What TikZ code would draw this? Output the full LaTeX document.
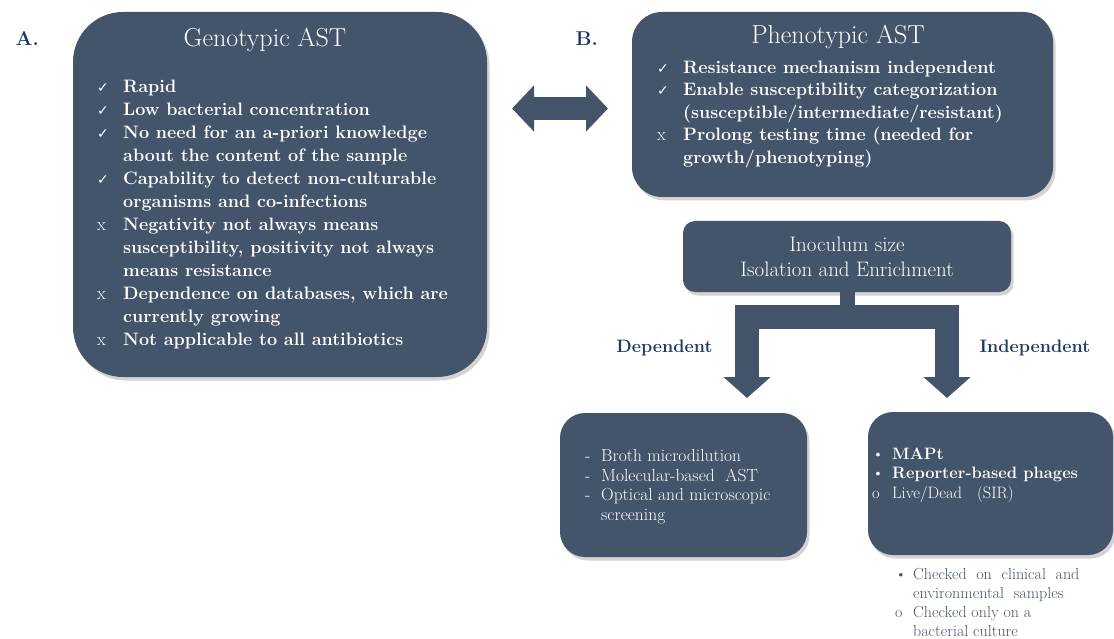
\documentclass[tikz,border=0pt]{standalone}
\usepackage{fontspec}
\newfontfamily\ckfont{DejaVu Sans}
\usepackage{tikz}
\usetikzlibrary{arrows.meta,positioning,shadows,calc}
\definecolor{slate}{HTML}{44546A}
\definecolor{navy}{HTML}{1F3864}
\newcommand{\chk}{{\ckfont\mdseries\fontsize{14}{14}\selectfont ✓}}
\newcommand{\crs}{{\mdseries x}}
\newcommand{\itm}[2]{\makebox[26pt][l]{#1}#2}
\newcommand{\cnt}[1]{\hspace*{26pt}#1}
\newcommand{\sitm}[2]{\makebox[16pt][l]{#1}#2}
\newcommand{\scnt}[1]{\hspace*{16pt}#1}

\begin{document}
\begin{tikzpicture}[x=1pt,y=-1pt,
  panel/.style={rectangle, fill=slate, draw=none, inner sep=0pt,
    drop shadow={shadow xshift=2.5pt, shadow yshift=-3.5pt, opacity=0.35}},
  ttl/.style={anchor=base, text=white, font=\fontsize{26}{26}\selectfont},
  lst/.style={anchor=north west, align=left, inner sep=0pt, text=white, font=\fontsize{18}{23}\selectfont\bfseries},
  slst/.style={anchor=north west, align=left, inner sep=0pt, text=white, font=\fontsize{17.5}{19.7}\selectfont},
  note/.style={anchor=north west, align=left, inner sep=0pt, text=slate, font=\fontsize{16}{19}\selectfont},
  tag/.style={anchor=base west, text=navy, font=\fontsize{20}{20}\selectfont\bfseries},
  branch/.style={text=navy, font=\fontsize{18}{18}\selectfont\bfseries},
  swaparr/.style={{Triangle[length=22pt,width=45pt]}-{Triangle[length=22pt,width=45pt]}, line width=23pt, draw=slate},
  stem/.style={line width=15pt, draw=slate},
  fork/.style={{Triangle[length=21pt,width=46pt]}-{Triangle[length=21pt,width=46pt]}, line width=24pt, draw=slate, line join=miter},
]
\useasboundingbox (0,0) rectangle (1114,639);

% --- panel A: genotypic testing ---
\node[panel, minimum width=414pt, minimum height=365pt, rounded corners=50pt] (geno) at (280,194.5) {};
\node[tag] (tagA) at (12,46) {A.};
\node[ttl] (genoTtl) at (265,47) {Genotypic AST};
\node[lst] (genoLst) at (97,79.5) {%
  \itm{\chk}{Rapid}\\
  \itm{\chk}{Low bacterial concentration}\\
  \itm{\chk}{No need for an a-priori knowledge}\\
  \cnt{about the content of the sample}\\
  \itm{\chk}{Capability to detect non-culturable}\\
  \cnt{organisms and co-infections}\\
  \itm{\crs}{Negativity not always means}\\
  \cnt{susceptibility, positivity not always}\\
  \cnt{means resistance}\\
  \itm{\crs}{Dependence on databases, which are}\\
  \cnt{currently growing}\\
  \itm{\crs}{Not applicable to all antibiotics}};

% --- panel B: phenotypic testing ---
\node[panel, minimum width=421pt, minimum height=185pt, rounded corners=30pt] (pheno) at (842.5,104.5) {};
\node[tag] (tagB) at (572,46) {B.};
\node[ttl] (phenoTtl) at (838,44) {Phenotypic AST};
\node[lst, font=\fontsize{18}{22.5}\selectfont\bfseries] (phenoLst) at (657,60.5) {%
  \itm{\chk}{Resistance mechanism independent}\\
  \itm{\chk}{Enable susceptibility categorization}\\
  \cnt{(susceptible/intermediate/resistant)}\\
  \itm{\crs}{Prolong testing time (needed for}\\
  \cnt{growth/phenotyping)}};

% --- double arrow between the two panels ---
\coordinate (swapL) at (512,108.5);
\coordinate (swapR) at (608,108.5);
\draw[swaparr] (swapL) -- (swapR);

% --- inoculum step and its split ---
\node[panel, minimum width=328pt, minimum height=71pt, rounded corners=12pt,
  align=center, text=white, font=\fontsize{21}{25}\selectfont] (inoc) at (847,256.5)
  {Inoculum size\\Isolation and Enrichment};

\coordinate (split) at (847.5,317);
\coordinate (depTip) at (747,398);
\coordinate (indTip) at (947,398);
\draw[stem] (inoc.south -| split) -- ([yshift=-2pt]split);
\draw[fork] (depTip) -- (depTip |- split) -- (indTip |- split) -- (indTip);

\node[branch, anchor=base east] (depLbl) at (716,352) {Dependent};
\node[branch, anchor=base west] (indLbl) at (976,352) {Independent};

% --- growth-dependent methods ---
\node[panel, minimum width=247pt, minimum height=144pt, rounded corners=25pt] (dep) at (683.5,485) {};
\node[slst] (depLst) at (585,449) {%
  \sitm{-}{Broth microdilution}\\
  \sitm{-}{Molecular-based\ \ AST}\\
  \sitm{-}{Optical and microscopic}\\
  \scnt{screening}};

% --- growth-independent methods ---
\node[panel, minimum width=245pt, minimum height=143pt, rounded corners=25pt] (ind) at (990.5,483.5) {};
\node[slst, font=\fontsize{16.5}{19.7}\selectfont] (indLst) at (872,447.5) {%
  \makebox[20pt][l]{\textbullet}\textbf{MAPt}\\
  \makebox[20pt][l]{\textbullet}\textbf{Reporter-based phages}\\
  \makebox[20pt][l]{o}Live/Dead\ \ \ (SIR)};

\node[note] (key) at (895,568) {%
  \makebox[18pt][l]{\textbullet}Checked\ \ on\ \ clinical\ \ and\\
  \hspace*{18pt}environmental\ \ samples\\
  \makebox[18pt][l]{o}Checked\ only\ on\ a\\
  \hspace*{18pt}bacterial culture};

\end{tikzpicture}
\end{document}
